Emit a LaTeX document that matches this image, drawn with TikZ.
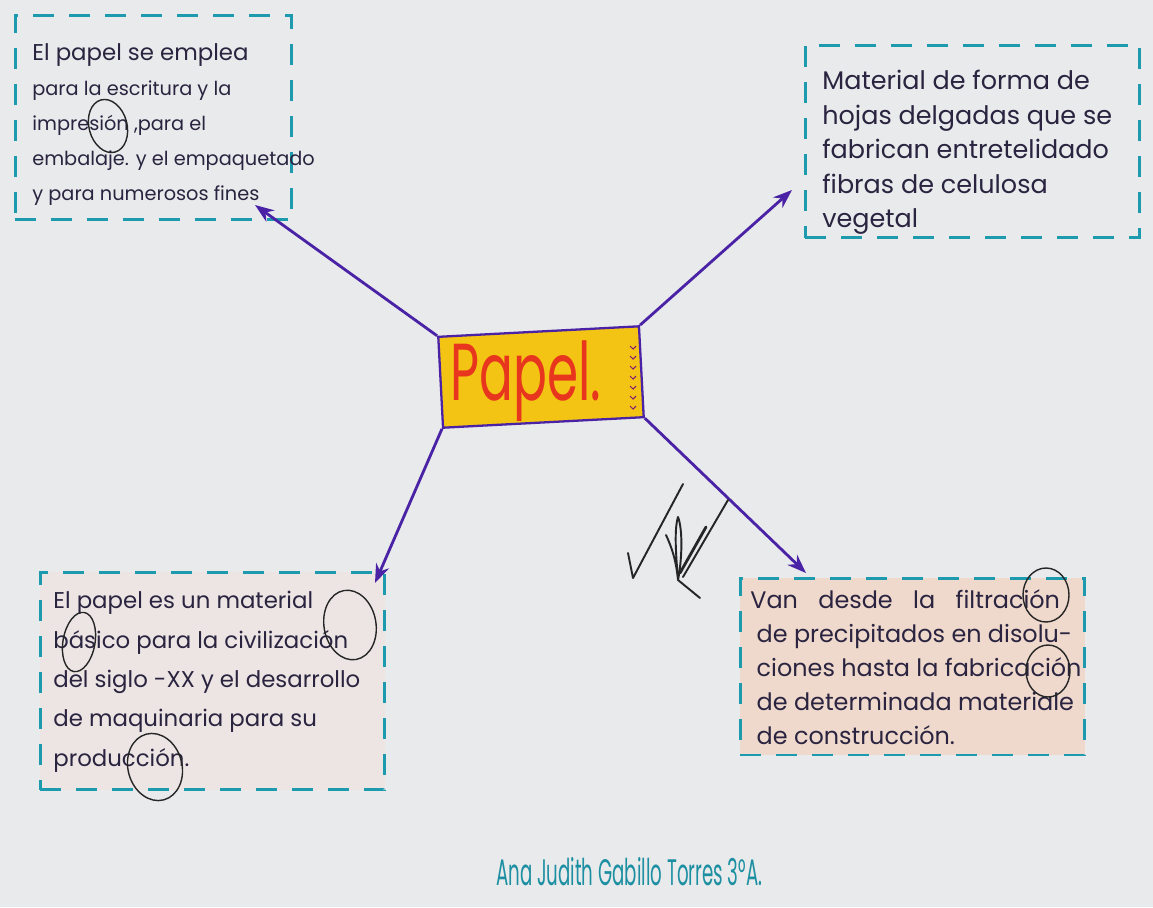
\documentclass[tikz,border=0pt]{standalone}
\usepackage{fontspec}
\usepackage{graphicx}
\setmainfont{Poppins}
\usetikzlibrary{arrows.meta}
\definecolor{paper}{HTML}{E8EAEB}
\definecolor{teal}{HTML}{1E9AAE}
\definecolor{purp}{HTML}{4A22A6}
\definecolor{ink}{HTML}{2A2440}
\definecolor{yel}{HTML}{F4C414}
\definecolor{redink}{HTML}{E8361E}
\definecolor{pinkfill}{HTML}{EFD8CC}
\definecolor{palepink}{HTML}{ECE5E3}
\definecolor{nameink}{HTML}{1C8FA2}
\tikzset{
  dbox/.style={draw=teal, line width=1.7pt, dash pattern=on 0.42cm off 0.3cm, inner sep=0pt},
  btext/.style={text=ink, align=left, anchor=north west, inner sep=0pt},
  conn/.style={draw=purp, line width=1.6pt, -{Stealth[length=0.38cm,width=0.28cm]}},
  circmark/.style={draw=black!85, line width=0.8pt},
  sig/.style={draw=black!85, line width=1.1pt, line cap=round, line join=round},
}
\begin{document}
\begin{tikzpicture}[x=0.02cm,y=-0.02cm]
\useasboundingbox (0,0) rectangle (1153,907);
\fill[paper] (0,0) rectangle (1153,907);

% boxes
\node[dbox, minimum width=5.54cm, minimum height=4.1cm] (tl) at (153.5,117.5) {};
\node[dbox, minimum width=6.7cm, minimum height=3.86cm] (tr) at (972.5,141.5) {};
\node[dbox, fill=palepink, minimum width=6.9cm, minimum height=4.36cm] (bl) at (212.5,681) {};
\node[dbox, fill=pinkfill, minimum width=6.9cm, minimum height=3.54cm] (br) at (912.5,666.5) {};

% texts
\node[btext, font=\fontsize{11}{20}\selectfont] (tlt) at (32,43)
 {{\fontsize{13}{20}\selectfont El papel se emplea}\\para la escritura y la\\impresión ,para el\\embalaje. y el empaquetado\\y para numerosos fines};
\node[btext, font=\fontsize{14.5}{19.6}\selectfont] (trt) at (822,70)
 {Material de forma de\\hojas delgadas que se\\fabrican entretelidado\\fibras de celulosa\\vegetal};
\node[btext, font=\fontsize{13}{22.4}\selectfont] (blt) at (53,591)
 {El papel es un material\\básico para la civilización\\del siglo -XX y el desarrollo\\de maquinaria para su\\producción.};
\node[btext, font=\fontsize{13.6}{19.4}\selectfont] (brt) at (750,589)
 {Van\hspace{8pt} desde\hspace{8pt} la\hspace{8pt} filtración\\\ de precipitados en disolu-\\\ ciones hasta la fabricación\\\ de determinada materiale\\\ de construcción.};

% center
\node[draw=purp, line width=1.3pt, fill=yel, rotate=3, minimum width=4.02cm, minimum height=1.82cm, inner sep=0pt] (c) at (541,377) {};
\node[text=redink, font=\fontsize{46}{50}\selectfont] (ct) at (526,381) {\scalebox{0.62}[1]{Papel.}};
\foreach \yy in {346,356,366,376,386,396,406}{
  \draw[draw=purp!70!red, line width=0.6pt] (630,\yy) -- (633,\yy+3) -- (636,\yy);
}

% connectors
\coordinate (e1) at (255,205);
\coordinate (e2) at (792,190);
\coordinate (e3) at (375,583);
\coordinate (e4) at (806,573);
\draw[conn] (c.north west) -- (e1);
\draw[conn] (c.north east) -- (e2);
\draw[conn] (c.south west) -- (e3);
\draw[conn] (c.south east) -- (e4);

% teacher marks
\draw[circmark, rotate around={15:(108,126)}] (108,126) ellipse [x radius=19, y radius=27];
\draw[circmark, rotate around={-10:(79,642)}] (79,642) ellipse [x radius=16, y radius=30];
\draw[circmark, rotate around={10:(350,625)}] (350,625) ellipse [x radius=26, y radius=35];
\draw[circmark, rotate around={15:(155,767)}] (155,767) ellipse [x radius=27, y radius=34];
\draw[circmark] (1046,595) ellipse [x radius=23, y radius=27];
\draw[circmark] (1048,671) ellipse [x radius=22, y radius=26];

% signature
\draw[sig] (628,553) -- (633,578) -- (683,484);
\draw[sig] (666,535) .. controls (672,548) and (676,560) .. (678,580) .. controls (676,555) and (674,530) .. (678,517) .. controls (683,530) and (682,560) .. (678,580) -- (700,598);
\draw[sig, line width=1.6pt] (680,573) -- (706,527);
\draw[sig] (683,577) -- (728,500);

% name
\node[text=nameink, font=\fontsize{14}{16}\selectfont, anchor=base west] (name) at (490,885) {\scalebox{0.74}[1.5]{Ana Judith Gabillo Torres 3°A.}};
\end{tikzpicture}
\end{document}
